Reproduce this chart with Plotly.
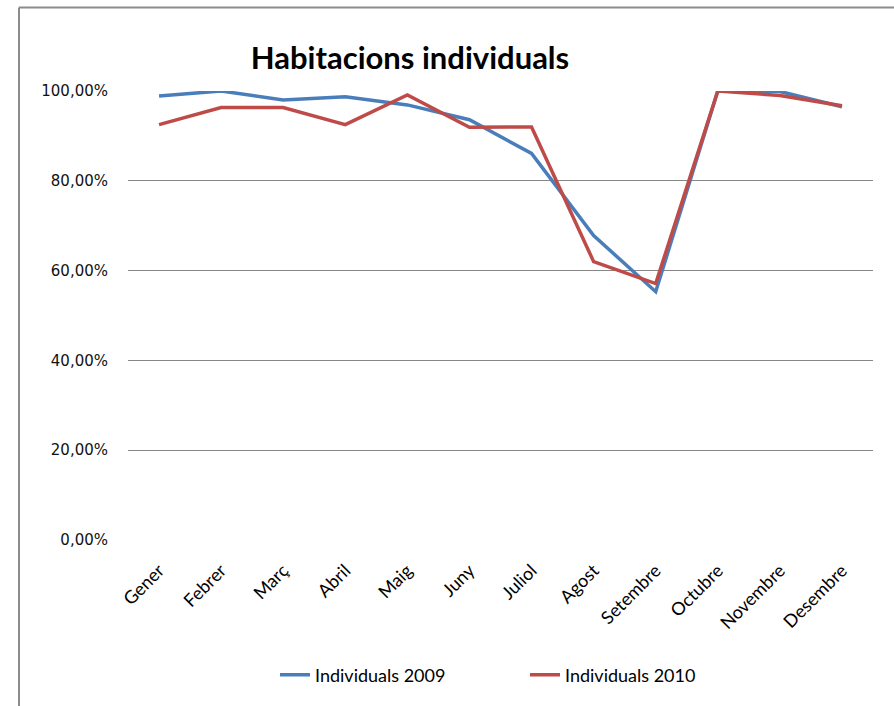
import plotly.graph_objects as go

months = ["Gener", "Febrer", "Març", "Abril", "Maig", "Juny", "Juliol",
          "Agost", "Setembre", "Octubre", "Novembre", "Desembre"]
ind_2009 = [0.989, 1.000, 0.980, 0.987, 0.969, 0.936, 0.861,
            0.678, 0.553, 1.000, 0.999, 0.965]
ind_2010 = [0.925, 0.963, 0.963, 0.925, 0.991, 0.919, 0.920,
            0.620, 0.571, 1.000, 0.990, 0.967]
y_ticks = [0, 0.2, 0.4, 0.6, 0.8, 1.0]

W, H = 894, 706
# àrea del gràfic en píxels
X0, X1, Y0, Y1 = 128, 873, 91, 543
pw, ph = X1 - X0, Y1 - Y0


def px_x(x):
    return (x - X0) / pw


def px_y(y):
    return (Y1 - y) / ph


fig = go.Figure()
fig.add_trace(go.Scatter(x=months, y=ind_2009, mode="lines", name="Individuals 2009",
                         line=dict(color="#4A7EBB", width=3.5)))
fig.add_trace(go.Scatter(x=months, y=ind_2010, mode="lines", name="Individuals 2010",
                         line=dict(color="#BE4B48", width=3.5)))

# marc del gràfic (vores esquerra i superior)
frame = dict(color="#8C8C8C", width=2)
fig.add_shape(type="line", xref="paper", yref="paper",
              x0=px_x(19), x1=px_x(19), y0=px_y(7), y1=px_y(H + 20), line=frame)
fig.add_shape(type="line", xref="paper", yref="paper",
              x0=px_x(19), x1=px_x(W + 20), y0=px_y(7), y1=px_y(7), line=frame)

fig.update_xaxes(
    range=[-0.5, 11.5],
    showgrid=False,
    tickangle=-45,
    ticks="outside",
    ticklen=0,
    ticklabelstandoff=12,
    tickfont=dict(family="Lato", size=18, color="#000000"),
    showline=False,
    zeroline=False,
)
fig.update_yaxes(
    range=[0, 1],
    tickvals=y_ticks,
    tickformat=".2%",
    showgrid=True,
    gridcolor="#878787",
    gridwidth=1,
    zeroline=False,
    ticks="outside",
    ticklen=0,
    ticklabelstandoff=16,
    tickfont=dict(family="DejaVu Sans", size=15, color="#111111"),
)
fig.update_layout(
    width=W,
    height=H,
    separators=",.",
    title=dict(text="<b>Habitacions individuals</b>", xref="paper", x=px_x(410), xanchor="center",
               y=1 - 58 / H, yanchor="middle",
               font=dict(family="Lato", size=31, color="#000000")),
    legend=dict(orientation="h", xref="paper", x=px_x(525), xanchor="center",
                y=px_y(679), yanchor="middle", entrywidth=205,
                font=dict(family="Lato", size=18, color="#000000")),
    plot_bgcolor="#FFFFFF",
    paper_bgcolor="#FFFFFF",
    margin=dict(l=X0, r=W - X1, t=Y0, b=H - Y1),
)
fig.write_html("out.html", config={"displayModeBar": False},
               post_script="document.body.style.margin='0';")
